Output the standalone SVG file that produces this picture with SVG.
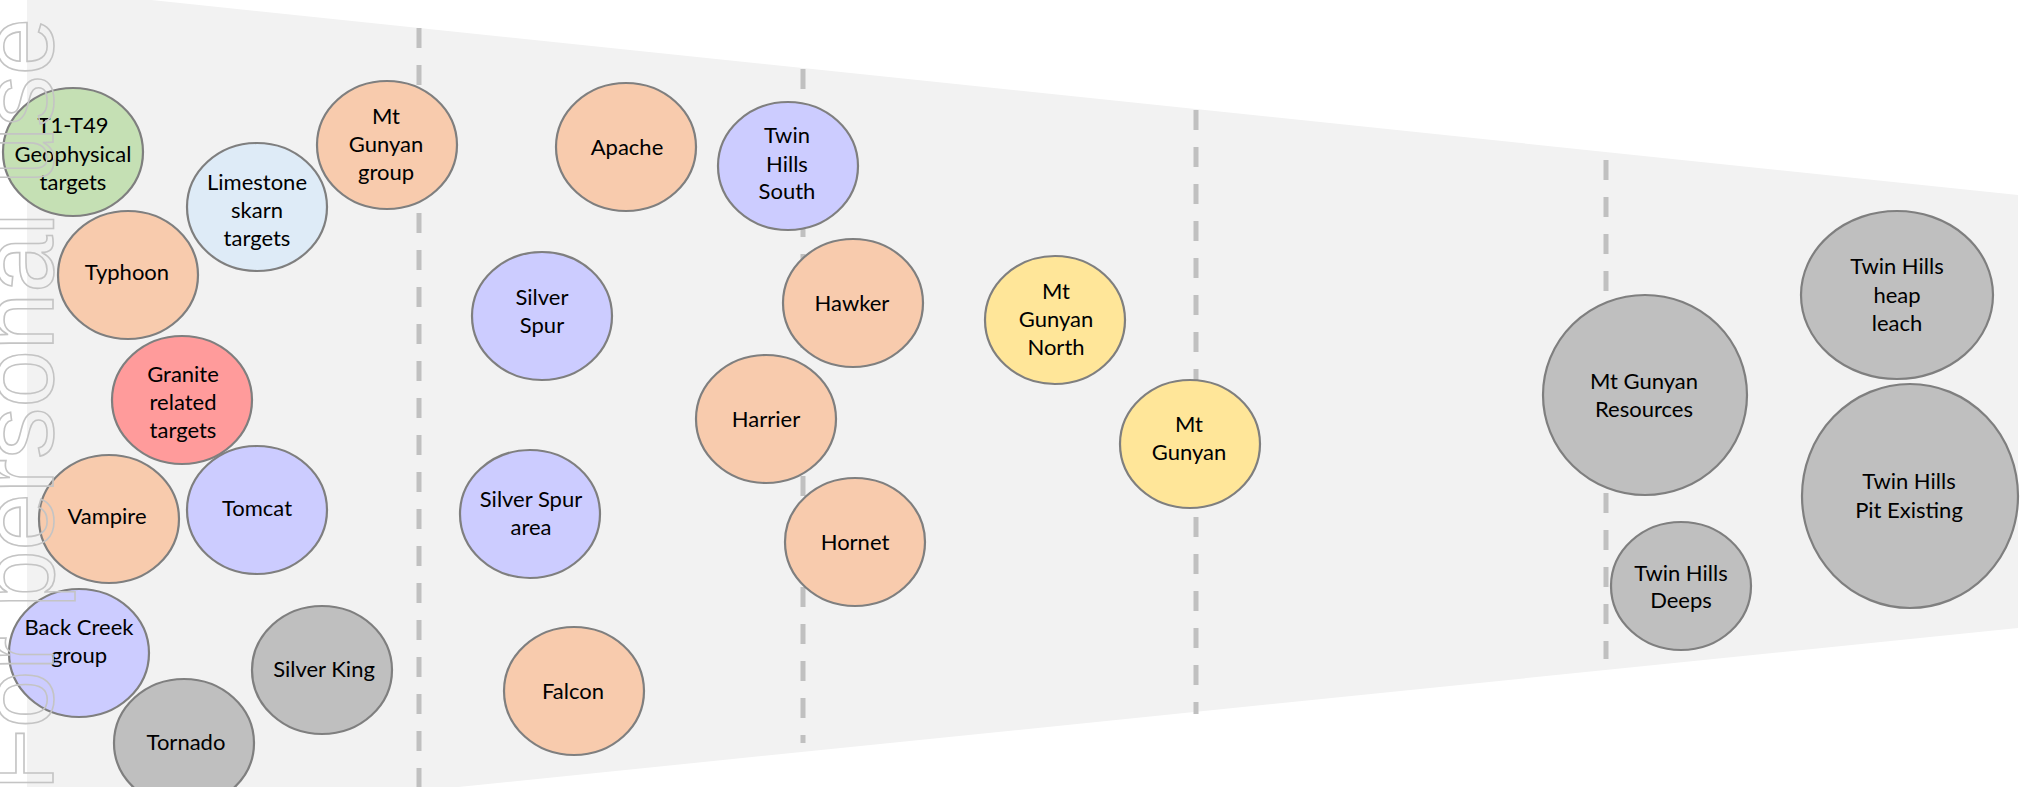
<svg xmlns="http://www.w3.org/2000/svg" width="2022" height="787" viewBox="0 0 2022 787">
<style>
.node ellipse{stroke:#7f7f7f;stroke-width:2.2}
.node text{font-family:Lato,"Liberation Sans",sans-serif;font-size:22px;fill:#000;text-anchor:middle}
.or{fill:#F8CBAD}.gr{fill:#C5E0B4}.lb{fill:#DEEBF7}.rd{fill:#FF9B9B}.lv{fill:#CCCCFF}.gy{fill:#BFBFBF}.ye{fill:#FFE699}
.div line{stroke:#c0c0c0;stroke-width:5;stroke-dasharray:20 17}
.wm{font-family:"Liberation Sans",Arial,sans-serif;font-size:103px;fill:none;stroke:#c4c4c4;stroke-width:1.6;text-anchor:end}
</style>
<rect width="2022" height="787" fill="#ffffff"/>
<polygon id="band" points="27,-13 2018,195 2018,628 27,831" fill="#F2F2F2"/>
<g id="dividers" class="div">
<line x1="419" y1="28" x2="419" y2="787"/>
<line x1="803" y1="69" x2="803" y2="743"/>
<line x1="1196" y1="110" x2="1196" y2="714"/>
<line x1="1606" y1="160" x2="1606" y2="659"/>
</g>
<g id="t1-t49" class="node"><ellipse class="gr" cx="73" cy="152" rx="70" ry="64"/><text x="73" y="133">T1-T49</text><text x="73" y="162">Geophysical</text><text x="73" y="190">targets</text></g>
<g id="limestone" class="node"><ellipse class="lb" cx="257" cy="207" rx="70" ry="64"/><text x="257" y="190">Limestone</text><text x="257" y="218">skarn</text><text x="257" y="246">targets</text></g>
<g id="mt-gunyan-group" class="node"><ellipse class="or" cx="387" cy="145" rx="70" ry="64"/><text x="386" y="124">Mt</text><text x="386" y="152">Gunyan</text><text x="386" y="180">group</text></g>
<g id="typhoon" class="node"><ellipse class="or" cx="128" cy="275" rx="70" ry="64"/><text x="127" y="280">Typhoon</text></g>
<g id="granite" class="node"><ellipse class="rd" cx="182" cy="400" rx="70" ry="64"/><text x="183" y="382">Granite</text><text x="183" y="410">related</text><text x="183" y="438">targets</text></g>
<g id="vampire" class="node"><ellipse class="or" cx="109" cy="519" rx="70" ry="64"/><text x="107" y="524">Vampire</text></g>
<g id="tomcat" class="node"><ellipse class="lv" cx="257" cy="510" rx="70" ry="64"/><text x="257" y="516">Tomcat</text></g>
<g id="back-creek" class="node"><ellipse class="lv" cx="79" cy="653" rx="70" ry="64"/><text x="79" y="635">Back Creek</text><text x="79" y="663">group</text></g>
<g id="silver-king" class="node"><ellipse class="gy" cx="322" cy="670" rx="70" ry="64"/><text x="324" y="677">Silver King</text></g>
<g id="tornado" class="node"><ellipse class="gy" cx="184" cy="743" rx="70" ry="64"/><text x="186" y="750">Tornado</text></g>
<g id="apache" class="node"><ellipse class="or" cx="626" cy="147" rx="70" ry="64"/><text x="627" y="155">Apache</text></g>
<g id="twin-hills-south" class="node"><ellipse class="lv" cx="788" cy="166" rx="70" ry="64"/><text x="787" y="143">Twin</text><text x="787" y="172">Hills</text><text x="787" y="199">South</text></g>
<g id="silver-spur" class="node"><ellipse class="lv" cx="542" cy="316" rx="70" ry="64"/><text x="542" y="305">Silver</text><text x="542" y="333">Spur</text></g>
<g id="hawker" class="node"><ellipse class="or" cx="853" cy="303" rx="70" ry="64"/><text x="852" y="311">Hawker</text></g>
<g id="harrier" class="node"><ellipse class="or" cx="766" cy="419" rx="70" ry="64"/><text x="766" y="427">Harrier</text></g>
<g id="silver-spur-area" class="node"><ellipse class="lv" cx="530" cy="514" rx="70" ry="64"/><text x="531" y="507">Silver Spur</text><text x="531" y="535">area</text></g>
<g id="hornet" class="node"><ellipse class="or" cx="855" cy="542" rx="70" ry="64"/><text x="855" y="550">Hornet</text></g>
<g id="falcon" class="node"><ellipse class="or" cx="574" cy="691" rx="70" ry="64"/><text x="573" y="699">Falcon</text></g>
<g id="mt-gunyan-north" class="node"><ellipse class="ye" cx="1055" cy="320" rx="70" ry="64"/><text x="1056" y="299">Mt</text><text x="1056" y="327">Gunyan</text><text x="1056" y="355">North</text></g>
<g id="mt-gunyan" class="node"><ellipse class="ye" cx="1190" cy="444" rx="70" ry="64"/><text x="1189" y="432">Mt</text><text x="1189" y="460">Gunyan</text></g>
<g id="mt-gunyan-resources" class="node"><ellipse class="gy" cx="1645" cy="395" rx="102" ry="100"/><text x="1644" y="389">Mt Gunyan</text><text x="1644" y="417">Resources</text></g>
<g id="twin-hills-deeps" class="node"><ellipse class="gy" cx="1681" cy="586" rx="70" ry="64"/><text x="1681" y="581">Twin Hills</text><text x="1681" y="608">Deeps</text></g>
<g id="twin-hills-heap-leach" class="node"><ellipse class="gy" cx="1897" cy="295" rx="96" ry="84"/><text x="1897" y="274">Twin Hills</text><text x="1897" y="303">heap</text><text x="1897" y="331">leach</text></g>
<g id="twin-hills-pit-existing" class="node"><ellipse class="gy" cx="1910" cy="496" rx="108" ry="112"/><text x="1909" y="489">Twin Hills</text><text x="1909" y="518">Pit Existing</text></g>
<text class="wm" transform="translate(53,18) rotate(-90)">For personal use</text>
</svg>
